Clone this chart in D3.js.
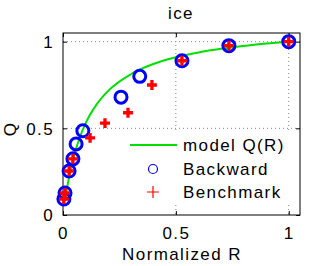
<!DOCTYPE html>
<html>
<head>
<meta charset="utf-8">
<script src="https://cdn.jsdelivr.net/npm/d3@7"></script>
<style>
body { margin: 0; background: #fff; }
svg text { font-family: "Liberation Sans", Arial, sans-serif; fill: #000; font-size: 17px; letter-spacing: 1.4px; }
</style>
</head>
<body>
<svg id="chart" width="332" height="266"></svg>
<script>
var xTicks = [0, 0.5, 1];
var yTicks = [0, 0.5, 1];

// model curve
var modelR = [0.01, 0.02, 0.03, 0.05, 0.075, 0.1, 0.15, 0.2, 0.3, 0.4, 0.5, 0.6, 0.7, 0.8, 0.9, 1];
var modelQ = [0.092, 0.171, 0.238, 0.347, 0.45, 0.529, 0.64, 0.716, 0.812, 0.871, 0.91, 0.938, 0.959, 0.975, 0.989, 1];

var backR = [1, 0.735, 0.527, 0.34, 0.257, 0.088, 0.058, 0.044, 0.027, 0.009, 0.004];
var backQ = [1, 0.977, 0.89, 0.80, 0.68, 0.486, 0.41, 0.324, 0.254, 0.127, 0.092];

var benchR = [1, 0.735, 0.527, 0.394, 0.288, 0.186, 0.12, 0.044, 0.027, 0.009, 0.004];
var benchQ = [1, 0.977, 0.89, 0.75, 0.59, 0.53, 0.445, 0.324, 0.254, 0.127, 0.092];

var legendNames = ["model Q(R)", "Backward", "Benchmark"];

var svg = d3.select("#chart");
var pLeft = 63, pRight = 300, pTop = 33, pBottom = 215;

var x = d3.scaleLinear().domain([0, 1.05]).range([pLeft, pRight]);
var y = d3.scaleLinear().domain([0, 1.05]).range([pBottom, pTop]);

// grid
svg.selectAll(".gx").data(xTicks.filter(function(d) { return d > 0; }))
	.enter().append("line")
	.attr("x1", function(d) { return x(d); }).attr("x2", function(d) { return x(d); })
	.attr("y1", pTop).attr("y2", pBottom)
	.attr("stroke", "#888").attr("stroke-width", 1).attr("stroke-dasharray", "1,3");
svg.selectAll(".gy").data(yTicks.filter(function(d) { return d > 0; }))
	.enter().append("line")
	.attr("y1", function(d) { return y(d); }).attr("y2", function(d) { return y(d); })
	.attr("x1", pLeft).attr("x2", pRight)
	.attr("stroke", "#888").attr("stroke-width", 1).attr("stroke-dasharray", "1,3");

// axes with inward ticks
var xAxis = svg.append("g").attr("transform", "translate(0," + pBottom + ")")
	.call(d3.axisBottom(x).tickValues(xTicks).tickSizeInner(-4).tickSizeOuter(0).tickPadding(12).tickFormat(d3.format("")));
var yAxis = svg.append("g").attr("transform", "translate(" + pLeft + ",0)")
	.call(d3.axisLeft(y).tickValues(yTicks).tickSizeInner(-4).tickSizeOuter(0).tickPadding(9).tickFormat(d3.format("")));
[xAxis, yAxis].forEach(function(a)
{
	a.select(".domain").remove();
	a.selectAll("text").style("font-size", "17px").attr("font-family", null);
});
yAxis.selectAll("text").attr("dy", "0.35em");
svg.append("g").attr("transform", "translate(0," + pTop + ")")
	.call(d3.axisTop(x).tickValues(xTicks).tickSizeInner(-4).tickSizeOuter(0).tickFormat(""))
	.select(".domain").remove();
svg.append("g").attr("transform", "translate(" + pRight + ",0)")
	.call(d3.axisRight(y).tickValues(yTicks).tickSizeInner(-4).tickSizeOuter(0).tickFormat(""))
	.select(".domain").remove();

svg.append("rect").attr("x", pLeft).attr("y", pTop)
	.attr("width", pRight - pLeft).attr("height", pBottom - pTop)
	.attr("fill", "none").attr("stroke", "#000").attr("stroke-width", 1);

// legend background (covers grid)
svg.append("rect").attr("x", 126).attr("y", 133).attr("width", 172).attr("height", 70).attr("fill", "#fff");

// model curve
var line = d3.line()
	.x(function(d, i) { return x(modelR[i]); })
	.y(function(d, i) { return y(modelQ[i]); })
	.curve(d3.curveMonotoneX);
svg.append("path").datum(modelR).attr("d", line)
	.attr("fill", "none").attr("stroke", "#00e000").attr("stroke-width", 2);

// backward circles
svg.selectAll(".back").data(backR).enter().append("circle")
	.attr("cx", function(d) { return x(d); })
	.attr("cy", function(d, i) { return y(backQ[i]); })
	.attr("r", 6).attr("fill", "none").attr("stroke", "#0000ff").attr("stroke-width", 3);

// benchmark pluses
var plus = d3.symbol().type(d3.symbolCross).size(55);
svg.selectAll(".bench").data(benchR).enter().append("path")
	.attr("d", plus)
	.attr("transform", function(d, i) { return "translate(" + x(d) + "," + y(benchQ[i]) + ")"; })
	.attr("fill", "#ff0000");

// legend
var lg = svg.append("g");
lg.append("line").attr("x1", 130).attr("x2", 177).attr("y1", 145).attr("y2", 145)
	.attr("stroke", "#00e000").attr("stroke-width", 2);
lg.append("circle").attr("cx", 153).attr("cy", 169).attr("r", 4.5)
	.attr("fill", "none").attr("stroke", "#0000ff").attr("stroke-width", 1.2);
lg.append("path").attr("d", "M147,192H159M153,186V198").attr("stroke", "#ff0000").attr("stroke-width", 1.2);
lg.selectAll("text").data(legendNames).enter().append("text")
	.attr("x", 183).attr("y", function(d, i) { return 151 + i * 23.5; })
	.text(function(d) { return d; });

// labels
svg.append("text").attr("x", 181).attr("y", 19).attr("text-anchor", "middle").text("ice");
svg.append("text").attr("x", 182).attr("y", 260).attr("text-anchor", "middle").text("Normalized R");
svg.append("text").attr("transform", "translate(16,129) rotate(-90)").attr("text-anchor", "middle").text("Q");
</script>
</body>
</html>
